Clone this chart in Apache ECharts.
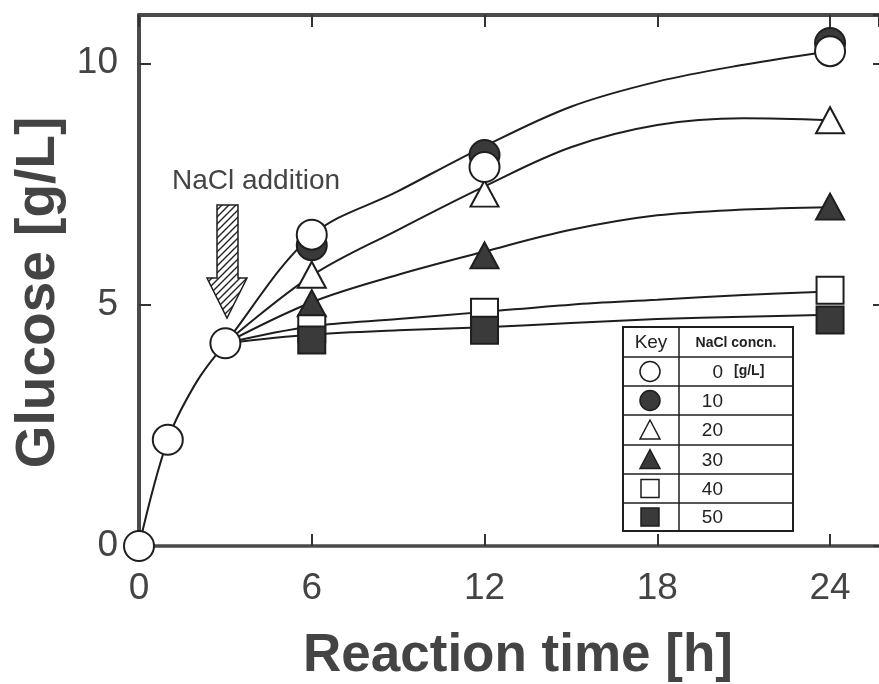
<!DOCTYPE html>
<html>
<head>
<meta charset="utf-8">
<script src="https://cdn.jsdelivr.net/npm/echarts@6/dist/echarts.min.js"></script>
<style>
  html, body { margin: 0; padding: 0; background: #fff; }
  #chart { width: 879px; height: 684px; }
</style>
</head>
<body>
<div id="chart"></div>
<script>
// measured points (reaction time in h, glucose in g/L)
const timeBase = [0, 1, 3, 6, 12, 24];
const glucose0 = [0, 2.2, 4.2, 6.45, 7.85, 10.25];
const timeSalt = [6, 12, 24];
const glucose10 = [6.23, 8.1, 10.42];
const glucose20 = [5.62, 7.3, 8.82];
const glucose30 = [5.03, 6.02, 7.03];
const glucose40 = [4.5, 4.84, 5.3];
const glucose50 = [4.27, 4.47, 4.68];

// fitted curves
const curveTime0 = [0, 1, 2, 3, 6, 9, 12, 15, 18, 21, 24];
const curve0 = [0, 2.2, 3.4, 4.2, 6.43, 7.35, 8.28, 9.1, 9.62, 9.97, 10.25];
const curveTime = [3, 6, 9, 12, 15, 18, 21, 24];
const curve20 = [4.2, 5.6, 6.55, 7.45, 8.26, 8.72, 8.86, 8.82];
const curve30 = [4.2, 5.05, 5.62, 6.1, 6.55, 6.85, 6.97, 7.02];
const curve40 = [4.2, 4.55, 4.7, 4.85, 5.0, 5.1, 5.2, 5.27];
const curve50 = [4.2, 4.38, 4.47, 4.53, 4.62, 4.7, 4.75, 4.79];

// key table
const keyLabels = ["0", "10", "20", "30", "40", "50"];

const ink = "#1e1e1e";
const dark = "#3a3a3a";
const textColor = "#444";
const font = "'Liberation Sans', Arial, sans-serif";

const zip = (xs, ys) => xs.map((x, i) => [x, ys[i]]);

const chart = echarts.init(document.getElementById("chart"));

// hatch for the arrow
const hatch = document.createElement("canvas");
hatch.width = 7;
hatch.height = 7;
const hg = hatch.getContext("2d");
hg.strokeStyle = "#222";
hg.lineWidth = 1.4;
hg.beginPath();
hg.moveTo(0, 7); hg.lineTo(7, 0);
hg.moveTo(-1, 1); hg.lineTo(1, -1);
hg.moveTo(6, 8); hg.lineTo(8, 6);
hg.stroke();

const curveSeries = (xs, ys) => ({
  type: "line",
  data: zip(xs, ys),
  smooth: 0.35,
  showSymbol: false,
  lineStyle: { color: ink, width: 2 },
  z: 1,
  silent: true
});

const pointSeries = (xs, ys, symbol, filled, size, z) => ({
  type: "scatter",
  data: zip(xs, ys),
  symbol: symbol,
  symbolSize: size,
  clip: false,
  itemStyle: { color: filled ? dark : "#fff", borderColor: ink, borderWidth: 2, opacity: 1 },
  z: z
});

// key table layout
const tx0 = 623, tx1 = 679, tx2 = 793;
const rowY = [327, 357, 386, 415, 445, 474, 503, 531];
const keyShapes = ["circleOpen", "circleFilled", "triOpen", "triFilled", "sqOpen", "sqFilled"];

const tableGraphics = [];
tableGraphics.push({
  type: "rect",
  shape: { x: tx0, y: rowY[0], width: tx2 - tx0, height: rowY[7] - rowY[0] },
  style: { fill: "#fff", stroke: ink, lineWidth: 2 },
  z: 10
});
tableGraphics.push({
  type: "line",
  shape: { x1: tx1, y1: rowY[0], x2: tx1, y2: rowY[7] },
  style: { stroke: ink, lineWidth: 1.5 },
  z: 11
});
for (let i = 1; i < 7; i++) {
  tableGraphics.push({
    type: "line",
    shape: { x1: tx0, y1: rowY[i], x2: tx2, y2: rowY[i] },
    style: { stroke: ink, lineWidth: 1.5 },
    z: 11
  });
}
tableGraphics.push({
  type: "text", x: (tx0 + tx1) / 2, y: (rowY[0] + rowY[1]) / 2 + 1, z: 12,
  style: { text: "Key", font: "19px " + font, fill: "#222", align: "center", verticalAlign: "middle" }
});
tableGraphics.push({
  type: "text", x: (tx1 + tx2) / 2, y: (rowY[0] + rowY[1]) / 2 + 1, z: 12,
  style: { text: "NaCl concn.", font: "bold 14px " + font, fill: "#222", align: "center", verticalAlign: "middle" }
});
keyLabels.forEach((lab, i) => {
  const cy = (rowY[i + 1] + rowY[i + 2]) / 2;
  const cx = 650;
  const kind = keyShapes[i];
  const fill = kind.indexOf("Filled") >= 0 ? dark : "#fff";
  if (kind.indexOf("circle") === 0) {
    tableGraphics.push({ type: "circle", shape: { cx: cx, cy: cy, r: 10 }, style: { fill: fill, stroke: ink, lineWidth: 1.5 }, z: 12 });
  } else if (kind.indexOf("tri") === 0) {
    tableGraphics.push({ type: "polygon", shape: { points: [[cx, cy - 10], [cx + 10, cy + 9], [cx - 10, cy + 9]] }, style: { fill: fill, stroke: ink, lineWidth: 1.5 }, z: 12 });
  } else {
    tableGraphics.push({ type: "rect", shape: { x: cx - 9, y: cy - 9, width: 18, height: 18 }, style: { fill: fill, stroke: ink, lineWidth: 1.5 }, z: 12 });
  }
  tableGraphics.push({
    type: "text", x: 723, y: cy + 1, z: 12,
    style: { text: lab, font: "19px " + font, fill: "#222", align: "right", verticalAlign: "middle" }
  });
  if (i === 0) {
    tableGraphics.push({
      type: "text", x: 734, y: cy, z: 12,
      style: { text: "[g/L]", font: "bold 14px " + font, fill: "#222", align: "left", verticalAlign: "middle" }
    });
  }
});

const option = {
  animation: false,
  backgroundColor: "#fff",
  grid: { left: 139, right: 0, top: 15, bottom: 138, containLabel: false, outerBoundsMode: "none" },
  xAxis: [
    {
      type: "value",
      min: 0,
      max: 25.7,
      interval: 6,
      name: "Reaction time [h]",
      nameLocation: "middle",
      nameGap: 84,
      nameTextStyle: { fontFamily: font, fontSize: 53, fontWeight: "bold", color: textColor, padding: [0, 0, 0, 18] },
      axisLine: { show: true, onZero: false, lineStyle: { color: "#4a4a4a", width: 3.5 } },
      axisTick: { show: true, inside: true, length: 12, lineStyle: { color: "#333", width: 2 } },
      axisLabel: { fontFamily: font, fontSize: 37, color: textColor, margin: 24, showMaxLabel: false },
      splitLine: { show: false }
    },
    {
      type: "value",
      position: "top",
      min: 0,
      max: 25.7,
      interval: 6,
      axisLine: { show: true, onZero: false, lineStyle: { color: "#4a4a4a", width: 4 } },
      axisTick: { show: true, inside: true, length: 12, lineStyle: { color: "#333", width: 2 } },
      axisLabel: { show: false },
      splitLine: { show: false }
    }
  ],
  yAxis: [
    {
      type: "value",
      min: 0,
      max: 11,
      interval: 5,
      name: "Glucose [g/L]",
      nameLocation: "middle",
      nameGap: 73,
      nameTextStyle: { fontFamily: font, fontSize: 55, fontWeight: "bold", color: textColor, padding: [0, 0, 0, -24] },
      axisLine: { show: true, onZero: false, lineStyle: { color: "#4a4a4a", width: 4 } },
      axisTick: { show: true, inside: true, length: 12, lineStyle: { color: "#333", width: 2 } },
      axisLabel: { fontFamily: font, fontSize: 37, color: textColor, margin: 21, showMaxLabel: false },
      splitLine: { show: false }
    },
    {
      type: "value",
      position: "right",
      min: 0,
      max: 11,
      interval: 5,
      axisLine: { show: false, onZero: false },
      axisTick: { show: true, inside: true, length: 6, lineStyle: { color: "#333", width: 2 } },
      axisLabel: { show: false },
      splitLine: { show: false }
    }
  ],
  series: [
    curveSeries(curveTime0, curve0),
    curveSeries(curveTime, curve20),
    curveSeries(curveTime, curve30),
    curveSeries(curveTime, curve40),
    curveSeries(curveTime, curve50),
    pointSeries(timeSalt, glucose20, "triangle", false, [28, 26], 2),
    pointSeries(timeSalt, glucose30, "triangle", true, [28, 26], 3),
    pointSeries(timeSalt, glucose40, "rect", false, 27, 4),
    pointSeries(timeSalt, glucose50, "rect", true, 27, 5),
    pointSeries(timeSalt, glucose10, "circle", true, 30, 6),
    pointSeries(timeBase, glucose0, "circle", false, 30, 7)
  ],
  graphic: [
    {
      type: "text", x: 256, y: 181, z: 12,
      style: { text: "NaCl addition", font: "28px " + font, fill: textColor, align: "center", verticalAlign: "middle" }
    },
    {
      type: "polygon",
      z: 12,
      shape: { points: [[217, 205], [238, 205], [238, 278], [247, 278], [227, 318], [207, 278], [217, 278]] },
      style: { fill: { image: hatch, repeat: "repeat" }, stroke: ink, lineWidth: 1.5 }
    }
  ].concat(tableGraphics)
};

chart.setOption(option);
</script>
</body>
</html>
